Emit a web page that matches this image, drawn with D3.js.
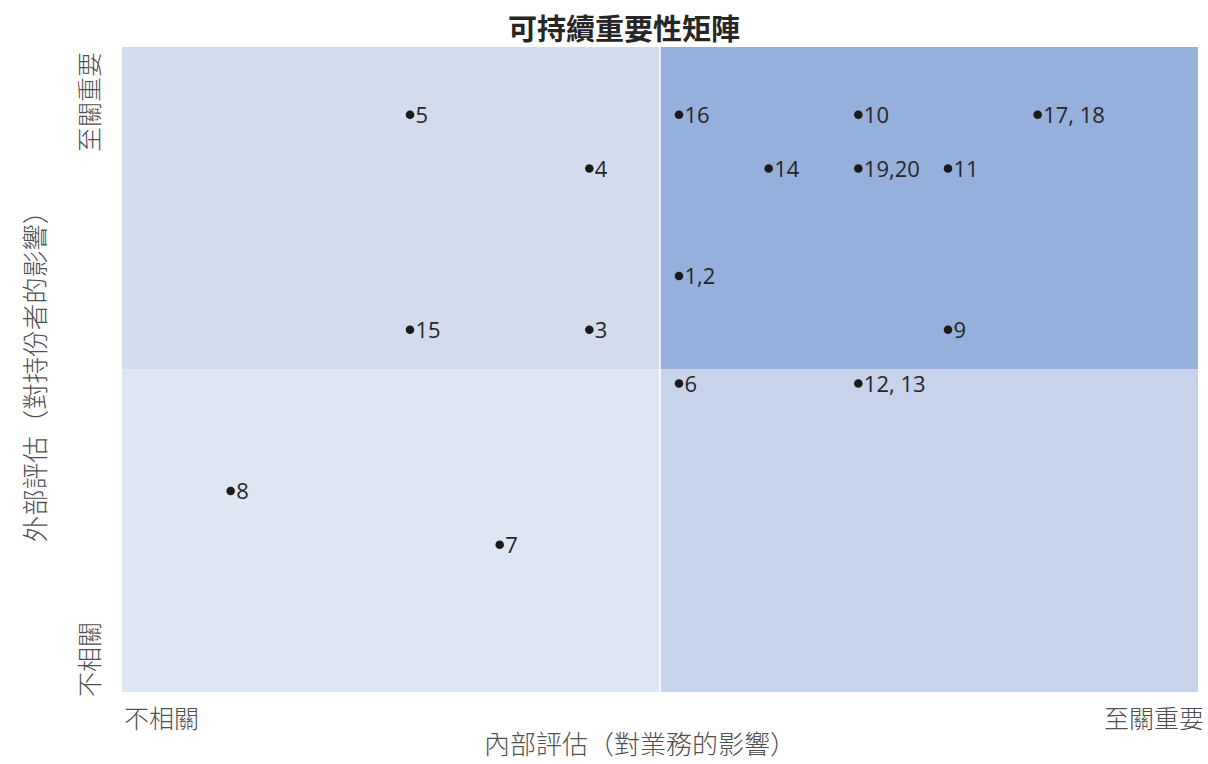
<!DOCTYPE html>
<html>
<head>
<meta charset="utf-8">
<script src="https://cdn.jsdelivr.net/npm/d3@7"></script>
<style>
  body { margin: 0; background: #ffffff; }
  .cjk { font-family: "Noto Sans CJK TC", "Noto Sans CJK SC", sans-serif; fill: #505050; font-weight: 300; }
  .lbl { font-family: "Open Sans", "Noto Sans", sans-serif; fill: #262626; }
</style>
</head>
<body>
<svg class="chart" width="1208" height="764"></svg>
<script>
// Chart values
var pointLabels = ["1,2", "3", "4", "5", "6", "7", "8", "9", "10", "11", "12, 13", "14", "15", "16", "17, 18", "19,20"];
var internalScore = [6, 5, 5, 3, 6, 4, 1, 9, 8, 9, 8, 7, 3, 6, 10, 8];   // x
var externalScore = [8, 7, 10, 11, 6, 3, 4, 7, 11, 10, 6, 10, 7, 11, 11, 10]; // y

var axisMin = 0, axisMid = 6, axisMax = 12;
var quadrantColors = ["#d3dcef", "#95b0db", "#dee5f3", "#c7d3ea"]; // TL, TR, BL, BR

var titleText = "可持續重要性矩陣";
var xTitle = "內部評估（對業務的影響）";
var yTitle = "外部評估（對持份者的影響）";
var lowLabel = "不相關";
var highLabel = "至關重要";

const width = 1208;
const height = 764;
var plotLeft = 122, plotRight = 1198, plotTop = 47, plotBottom = 692;

var svg = d3.select(".chart");

var xScale = d3.scaleLinear().domain([axisMin, axisMax]).range([plotLeft, plotRight]);
var yScale = d3.scaleLinear().domain([axisMin, axisMax]).range([plotBottom, plotTop]);

/**** Quadrants ****/
var quads = [
    {x0: axisMin, x1: axisMid, y0: axisMid, y1: axisMax},
    {x0: axisMid, x1: axisMax, y0: axisMid, y1: axisMax},
    {x0: axisMin, x1: axisMid, y0: axisMin, y1: axisMid},
    {x0: axisMid, x1: axisMax, y0: axisMin, y1: axisMid}
];

svg.append("g").selectAll("rect")
    .data(quads)
    .enter()
    .append("rect")
    .attr("x", function(d) { return xScale(d.x0); })
    .attr("y", function(d) { return yScale(d.y1); })
    .attr("width", function(d) { return xScale(d.x1) - xScale(d.x0); })
    .attr("height", function(d) { return yScale(d.y0) - yScale(d.y1); })
    .style("fill", function(d, i) { return quadrantColors[i]; });

// thin white divider between left and right halves
svg.append("line")
    .attr("x1", xScale(axisMid)).attr("x2", xScale(axisMid))
    .attr("y1", plotTop).attr("y2", plotBottom)
    .style("stroke", "#ffffff")
    .style("stroke-width", 1.5);

/**** Points (bullet + label, offset like data labels) ****/
var dotDx = 19, dotDy = 14;
var points = pointLabels.map(function(l, i) {
    return {label: l, x: internalScore[i], y: externalScore[i]};
});

var pts = svg.append("g").selectAll("g")
    .data(points)
    .enter()
    .append("g")
    .attr("transform", function(d) {
        return "translate(" + (xScale(d.x) + dotDx) + "," + (yScale(d.y) + dotDy) + ")";
    });

pts.append("circle")
    .attr("r", 4.3)
    .style("fill", "#1a1a1a");

pts.append("text")
    .attr("class", "lbl")
    .attr("x", 5.5)
    .attr("y", 8)
    .style("font-size", "22px")
    .text(function(d) { return d.label; });

/**** Title ****/
svg.append("text")
    .attr("class", "cjk")
    .attr("x", 624)
    .attr("y", 40)
    .attr("text-anchor", "middle")
    .style("font-size", "29px")
    .style("font-weight", "bold")
    .style("fill", "#262626")
    .text(titleText);

/**** X axis labels ****/
svg.append("text")
    .attr("class", "cjk")
    .attr("x", plotLeft + 2)
    .attr("y", 728)
    .style("font-size", "25px")
    .text(lowLabel);

svg.append("text")
    .attr("class", "cjk")
    .attr("x", 1204)
    .attr("y", 728)
    .attr("text-anchor", "end")
    .style("font-size", "25px")
    .text(highLabel);

svg.append("text")
    .attr("class", "cjk")
    .attr("x", 640)
    .attr("y", 754)
    .attr("text-anchor", "middle")
    .style("font-size", "26px")
    .text(xTitle);

/**** Y axis labels (rotated) ****/
svg.append("text")
    .attr("class", "cjk")
    .attr("transform", "translate(" + 99 + "," + 152 + ") rotate(-90)")
    .style("font-size", "25px")
    .text(highLabel);

svg.append("text")
    .attr("class", "cjk")
    .attr("transform", "translate(" + 99 + "," + 697 + ") rotate(-90)")
    .style("font-size", "25px")
    .text(lowLabel);

svg.append("text")
    .attr("class", "cjk")
    .attr("transform", "translate(" + 45 + "," + 370 + ") rotate(-90)")
    .attr("text-anchor", "middle")
    .style("font-size", "26.5px")
    .text(yTitle);
</script>
</body>
</html>
